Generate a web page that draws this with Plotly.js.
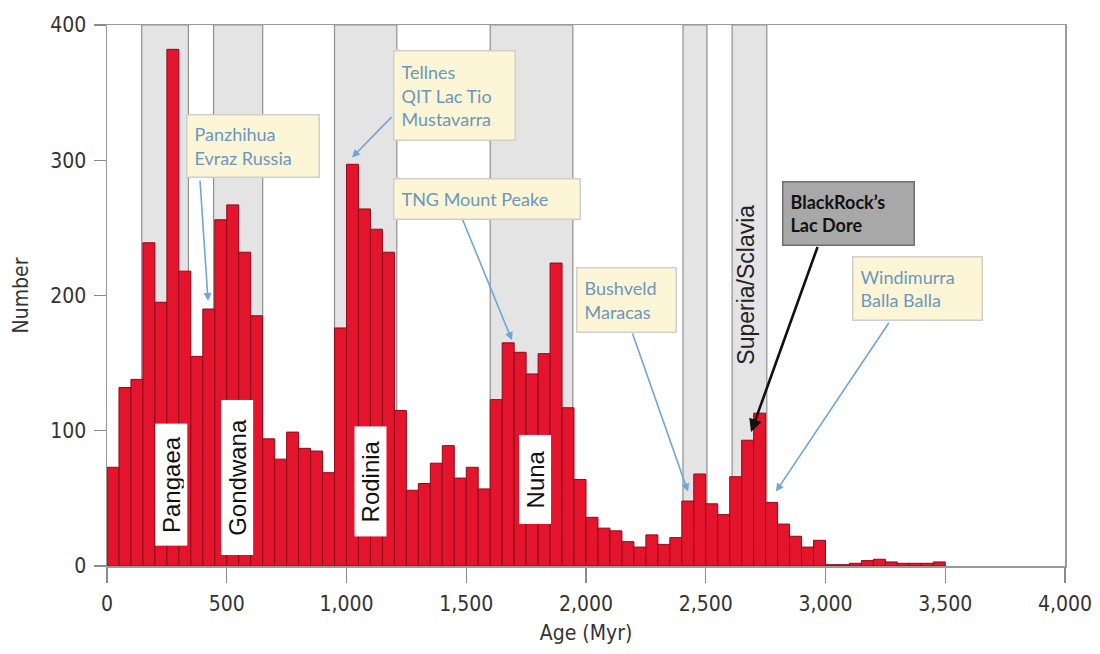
<!DOCTYPE html>
<html>
<head>
<meta charset="utf-8">
<script src="https://cdn.plot.ly/plotly-3.0.1.min.js"></script>
<style>html,body{margin:0;padding:0;background:#fff;}#chart{width:1100px;height:654px;}</style>
</head>
<body>
<div id="chart"></div>
<script>
// Bin start ages (Myr), 50 Myr bins
const binStart = [0,50,100,150,200,250,300,350,400,450,500,550,600,650,700,750,800,850,900,950,
  1000,1050,1100,1150,1200,1250,1300,1350,1400,1450,1500,1550,1600,1650,1700,1750,1800,1850,1900,1950,
  2000,2050,2100,2150,2200,2250,2300,2350,2400,2450,2500,2550,2600,2650,2700,2750,2800,2850,2900,2950,
  3000,3050,3100,3150,3200,3250,3300,3350,3400,3450];
// Number of deposits per bin
const counts = [73,132,138,239,195,382,218,155,190,256,267,232,185,94,79,99,87,85,69,176,
  297,264,249,232,115,56,61,76,89,65,73,57,123,165,158,142,157,224,117,64,
  36,28,26,18,14,23,16,21,48,68,46,38,66,93,113,47,31,22,14,19,
  1,1,2,4,5,3,2,2,2,3];

// Supercontinent bands (Myr)
const bandStart = [145, 445, 950, 1600, 2405, 2610];
const bandEnd   = [340, 650, 1210, 1945, 2505, 2755];

// Supercontinent labels
const superNames = ["Pangaea","Gondwana","Rodinia","Nuna"];
const superX = [267, 543, 1100, 1787];
const superY = [60.5, 65.5, 62.5, 64];
const superBoxLen = [121, 154, 109, 88];

// Deposit callouts
const calloutText = ["Panzhihua<br>Evraz Russia","Tellnes<br>QIT Lac Tio<br>Mustavarra","TNG Mount Peake",
  "Bushveld<br>Maracas","Windimurra<br>Balla Balla"];
const calloutX = [610, 1453, 1587, 2167, 3386];
const calloutY = [310.5, 348, 271, 197, 205.5];
const calloutW = [117, 106, 171, 84, 114];
const calloutH = [47, 74, 25, 49, 48];
const arrowHeadX = [422, 1023, 1691, 2426, 2793];
const arrowHeadY = [196, 302, 167, 55, 55];
const arrowTailX = [388, 1194, 1478, 2192, 3269];
const arrowTailY = [286, 333, 259, 173, 181];

const ticksX = [0,500,1000,1500,2000,2500,3000,3500,4000];
const ticksXText = ["0","500","1,000","1,500","2,000","2,500","3,000","3,500","4,000"];

const condensed = "Liberation Sans Narrow, Arial Narrow, DejaVu Sans Condensed, sans-serif";
const plain = "Liberation Sans, Arial, sans-serif";
const callFont = "Lato, Open Sans, sans-serif";

const trace = {
  type: "bar",
  x: binStart,
  y: counts,
  offset: 0,
  width: 50,
  marker: {color: "#e5142d", line: {color: "#8e0a1a", width: 1}},
  hoverinfo: "x+y"
};

const shapes = bandStart.map((s, i) => ({
  type: "rect", xref: "x", yref: "paper", x0: s, x1: bandEnd[i], y0: 0, y1: 1,
  fillcolor: "#e4e4e4", line: {color: "#8f8f8f", width: 1.2}, layer: "below"
}));

const annotations = [];
superNames.forEach((n, i) => {
  annotations.push({
    x: superX[i], y: superY[i], xref: "x", yref: "y", text: n, showarrow: false,
    textangle: -90, font: {family: plain, size: 24, color: "#111"},
    bgcolor: "#ffffff", borderpad: 3, width: superBoxLen[i] - 6, height: 25
  });
});
annotations.push({
  x: 2668, y: 208, xref: "x", yref: "y", text: "Superia/Sclavia", showarrow: false,
  textangle: -90, font: {family: plain, size: 23, color: "#222"}
});
// arrows
for (let i = 0; i < calloutText.length; i++) {
  annotations.push({
    x: arrowHeadX[i], y: arrowHeadY[i], ax: arrowTailX[i], ay: arrowTailY[i],
    xref: "x", yref: "y", axref: "x", ayref: "y", text: "", showarrow: true,
    arrowhead: 2, arrowsize: 1, arrowwidth: 1.6, arrowcolor: "#6fa6d6", standoff: 0, startstandoff: 0
  });
}
annotations.push({
  x: 2689, y: 99, ax: 2969, ay: 237, xref: "x", yref: "y", axref: "x", ayref: "y", text: "",
  showarrow: true, arrowhead: 2, arrowsize: 1, arrowwidth: 2.6, arrowcolor: "#111", standoff: 0
});
// callout boxes
for (let i = 0; i < calloutText.length; i++) {
  annotations.push({
    x: calloutX[i], y: calloutY[i], xref: "x", yref: "y", text: calloutText[i], showarrow: false,
    align: "left", font: {family: callFont, size: 18, color: "#6b96c0"},
    bgcolor: "#fcf6d6", bordercolor: "#cfcfcf", borderwidth: 1.5, borderpad: 7,
    width: calloutW[i], height: calloutH[i]
  });
}
annotations.push({
  x: 3098, y: 261, xref: "x", yref: "y", text: "<b>BlackRock\u2019s<br>Lac Dore</b>", showarrow: false,
  align: "left", font: {family: callFont, size: 18, color: "#111"},
  bgcolor: "#a8a8a8", bordercolor: "#6f6f6f", borderwidth: 1.5, borderpad: 7,
  width: 116, height: 48
});

const layout = {
  width: 1100, height: 654,
  margin: {l: 107, r: 35, t: 25, b: 88},
  paper_bgcolor: "#ffffff", plot_bgcolor: "#ffffff",
  showlegend: false, bargap: 0,
  xaxis: {
    range: [0, 4000], tickvals: ticksX, ticktext: ticksXText,
    ticks: "outside", ticklen: 15, tickcolor: "#8a8a8a", tickwidth: 1.2,
    showline: true, linecolor: "#9a9a9a", linewidth: 1.5, mirror: true,
    showgrid: false, zeroline: false, ticklabelstandoff: 3,
    tickfont: {family: condensed, size: 21, color: "#333"},
    title: {text: "Age (Myr)", font: {family: condensed, size: 21, color: "#333"}, standoff: 10}
  },
  yaxis: {
    range: [0, 400], tickvals: [0,100,200,300,400],
    ticks: "outside", ticklen: 12, tickcolor: "#8a8a8a", tickwidth: 1.2,
    showline: true, linecolor: "#9a9a9a", linewidth: 1.5, mirror: true,
    showgrid: false, zeroline: false, ticklabelstandoff: 3,
    tickfont: {family: condensed, size: 21, color: "#333"},
    title: {text: "Number", font: {family: condensed, size: 21, color: "#333"}, standoff: 16}
  },
  shapes: shapes,
  annotations: annotations
};

Plotly.newPlot("chart", [trace], layout, {displayModeBar: false, staticPlot: true});
</script>
</body>
</html>
